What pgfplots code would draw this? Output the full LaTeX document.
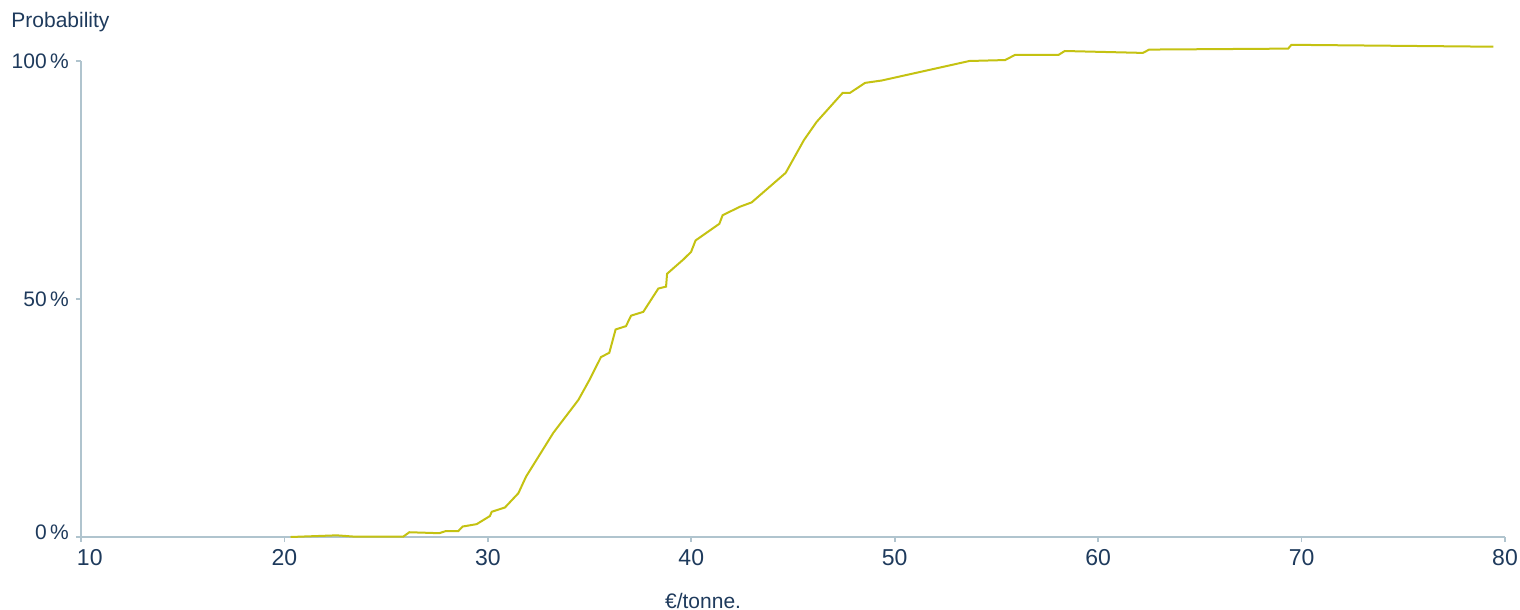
\documentclass[border=0pt]{standalone}
\usepackage{pgfplots}
\pgfplotsset{compat=1.18}
\usepackage{fontspec}
\setmainfont{Liberation Sans}
\definecolor{curve}{RGB}{196,194,18}
\definecolor{axisc}{RGB}{176,196,206}
\definecolor{txt}{RGB}{30,58,92}
\begin{document}
\begin{tikzpicture}
\begin{axis}[name=ax, scale only axis, width=712pt, height=238pt,
  xmin=10, xmax=80, ymin=0, ymax=100, clip=false,
  axis lines*=left,
  axis line style={axisc, line width=0.8pt},
  tick style={axisc, line width=0.8pt},
  major tick length=2.5pt, tick align=outside,
  xtick={10,20,...,80}, ytick={0,50,100},
  xticklabels={{\makebox[0pt][l]{\kern-2pt 10}},20,30,40,50,60,70,80},
  yticklabels={{\raisebox{5pt}{0\,\%}},{50\,\%},{100\,\%}},
  x tick label style={font=\fontsize{11.5}{13}\selectfont, text=txt},
  y tick label style={font=\fontsize{10.5}{12}\selectfont, text=txt},
]
\addplot[curve, line width=1pt] coordinates {
(20.3,0) (22.57,0.35) (23.37,0.1) (25.85,0.1) (26.14,1.0) (27.61,0.8)
(27.94,1.26) (28.55,1.26) (28.76,2.2) (29.45,2.7) (30.1,4.4) (30.19,5.3)
(30.84,6.2) (31.5,9.2) (31.88,12.7) (33.22,21.9) (34.45,28.8) (35.02,33.2)
(35.56,37.8) (35.97,38.7) (36.28,43.6) (36.79,44.3) (37.04,46.5) (37.64,47.3)
(38.38,52.2) (38.76,52.6) (38.81,55.3) (39.61,58.3) (39.99,59.9) (40.21,62.3)
(41.38,65.8) (41.54,67.6) (42.4,69.4) (42.97,70.3) (44.64,76.5) (45.54,83.4)
(46.16,87.2) (47.44,93.3) (47.8,93.3) (48.54,95.4) (49.36,95.9) (53.67,100.0)
(55.43,100.2) (55.92,101.3) (58.06,101.3) (58.36,102.1) (62.2,101.7) (62.51,102.4)
(69.34,102.6) (69.5,103.4) (79.43,103.0)
};
\node[font=\fontsize{10.5}{12}\selectfont, text=txt] at (axis cs:40.58,0) [yshift=-32pt] {€/tonne.};
\end{axis}
\node[anchor=west, font=\fontsize{10.5}{12}\selectfont, text=txt, inner sep=0pt] at ([xshift=-35pt,yshift=19.5pt]ax.north west) {Probability};
\pgfresetboundingbox
\path ([xshift=-40.5pt,yshift=-36.5pt]ax.south west) rectangle ([xshift=7.5pt,yshift=30.5pt]ax.north east);
\end{tikzpicture}
\end{document}
